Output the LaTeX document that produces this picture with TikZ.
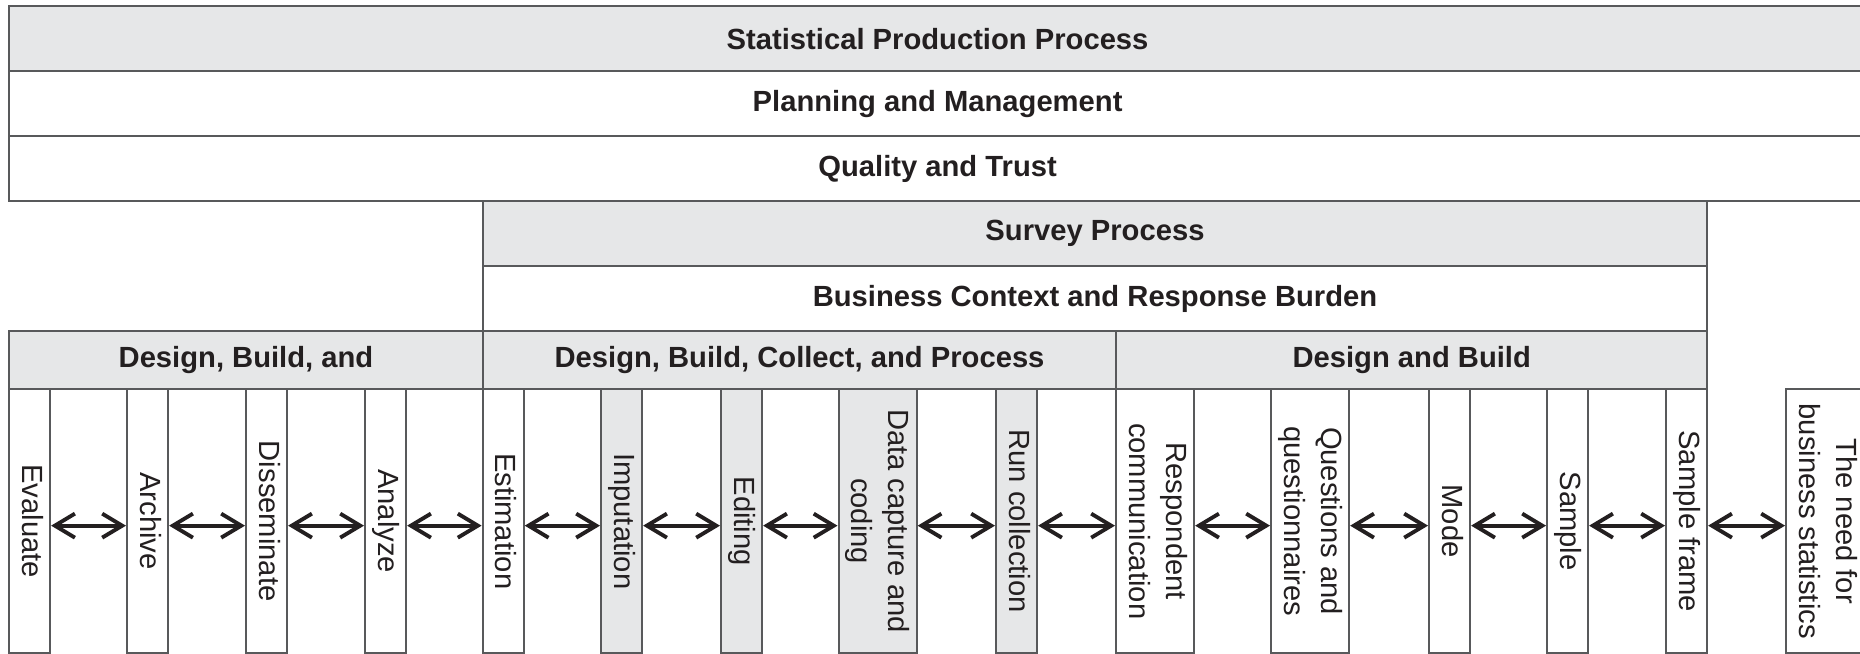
\documentclass[tikz,border=0pt]{standalone}
\usepackage{fontspec}
\setmainfont{Liberation Sans}
\usetikzlibrary{arrows.meta}
\definecolor{grisfond}{RGB}{230,231,232}
\definecolor{grisbord}{RGB}{88,89,91}
\definecolor{encre}{RGB}{35,31,32}
\tikzset{
  bande/.style={draw=grisbord, line width=0.6pt, anchor=north west, inner sep=0pt,
    minimum height=0.65cm, font=\fontsize{8.3}{10.5}\selectfont\bfseries, text=encre},
  etape/.style={draw=grisbord, line width=0.6pt, anchor=north west, inner sep=0pt,
    minimum height=2.64cm, minimum width=0.41cm, text=encre, fill=white},
  large/.style={minimum width=0.78cm},
  fleche/.style={encre, line width=1.1pt, <->, >={Straight Barb[length=2mm,width=2.4mm]},
    transform canvas={yshift=-0.45mm}}
}
\newcommand{\texteVert}[1]{\rotatebox{-90}{\begin{tabular}{@{}c@{}}#1\end{tabular}}}
\begin{document}
\begin{tikzpicture}[x=0.01cm, y=-0.01cm, font=\fontsize{8.3}{10.5}\selectfont]
\useasboundingbox (0,0) rectangle (1860,653);
\clip (0,0) rectangle (1860,653);
% Les trois bandeaux du haut, coupés à droite
\node[bande, fill=grisfond, minimum width=18.56cm] (prod) at (8,5) {Statistical Production Process};
\node[bande, minimum width=18.56cm] (plan) at (8,70) {Planning and Management};
\node[bande, minimum width=18.56cm] (qual) at (8,135) {Quality and Trust};
% Le processus d'enquête
\node[bande, fill=grisfond, minimum width=12.24cm] (survey) at (481.6,200) {Survey Process};
\node[bande, minimum width=12.24cm] (context) at (481.6,265) {Business Context and Response Burden};
% Les trois phases
\node[bande, fill=grisfond, minimum height=0.58cm, minimum width=4.736cm] (dba) at (8,330) {Design, Build, and};
\node[bande, fill=grisfond, minimum height=0.58cm, minimum width=6.334cm] (dbcp) at (481.6,330) {Design, Build, Collect, and Process};
\node[bande, fill=grisfond, minimum height=0.58cm, minimum width=5.91cm] (db) at (1115,330) {Design and Build};

% Les étapes, texte écrit de haut en bas
\node[etape] (evaluate) at (8,388) {\texteVert{Evaluate}};
\node[etape] (archive) at (126,388) {\texteVert{Archive}};
\node[etape] (disseminate) at (245,388) {\texteVert{Disseminate}};
\node[etape] (analyze) at (364,388) {\texteVert{Analyze}};
\node[etape] (estimation) at (481.6,388) {\texteVert{Estimation}};
% Les étapes grisées
\node[etape, fill=grisfond] (imputation) at (600,388) {\texteVert{Imputation}};
\node[etape, fill=grisfond] (editing) at (720,388) {\texteVert{Editing}};
\node[etape, large, fill=grisfond] (capture) at (837.5,388) {\texteVert{Data capture and\\coding}};
\node[etape, fill=grisfond] (run) at (995,388) {\texteVert{Run collection}};
\node[etape, large] (respondent) at (1115,388) {\texteVert{Respondent\\communication}};
\node[etape, large] (questions) at (1270,388) {\texteVert{Questions and\\questionnaires}};
\node[etape] (mode) at (1428,388) {\texteVert{Mode}};
\node[etape] (sample) at (1546,388) {\texteVert{Sample}};
\node[etape] (frame) at (1665,388) {\texteVert{Sample frame}};
% Le besoin, coupé à droite
\node[etape, large] (need) at (1785,388) {\texteVert{The need for\\business statistics}};

% Les flèches entre deux étapes voisines
\draw[fleche] (evaluate) -- (archive);
\draw[fleche] (archive) -- (disseminate);
\draw[fleche] (disseminate) -- (analyze);
\draw[fleche] (analyze) -- (estimation);
\draw[fleche] (estimation) -- (imputation);
\draw[fleche] (imputation) -- (editing);
\draw[fleche] (editing) -- (capture);
\draw[fleche] (capture) -- (run);
\draw[fleche] (run) -- (respondent);
\draw[fleche] (respondent) -- (questions);
\draw[fleche] (questions) -- (mode);
\draw[fleche] (mode) -- (sample);
\draw[fleche] (sample) -- (frame);
\draw[fleche] (frame) -- (need);
\end{tikzpicture}
\end{document}
